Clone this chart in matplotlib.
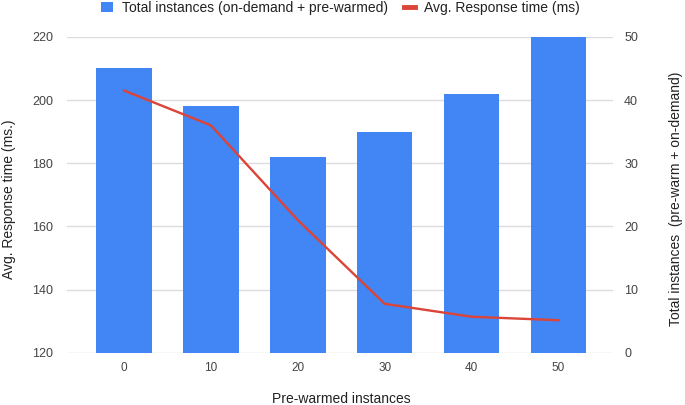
import matplotlib
matplotlib.use("Agg")
import matplotlib.pyplot as plt
from matplotlib.lines import Line2D
from matplotlib.patches import Patch

plt.rcParams['font.family'] = ['Liberation Sans', 'DejaVu Sans']

categories = ['0', '10', '20', '30', '40', '50']
total_instances = [45, 39, 31, 35, 41, 50]
response_time = [203, 192, 162, 135.5, 131.4, 130.3]

blue = '#4285F4'
red = '#DB4437'
grid = '#dcdcdc'
tick_col = '#444444'
lab_col = '#222222'

W, H = 685, 405
fig = plt.figure(figsize=(W / 100, H / 100), dpi=100)
ax = fig.add_axes([0.0974, 0.129, 0.7976, 0.780])
ax2 = ax.twinx()

x = list(range(len(categories)))
ax2.bar(x, total_instances, width=0.64, color=blue, zorder=2)
ax2.set_ylim(0, 50)
ax2.set_yticks([0, 10, 20, 30, 40, 50])
ax2.yaxis.grid(True, color=grid, linewidth=1.0, zorder=0)
ax2.set_axisbelow(True)

ax.plot(x, response_time, color=red, linewidth=1.7, zorder=3)
ax.set_ylim(120, 220)
ax.set_yticks([120, 140, 160, 180, 200, 220])
ax.set_xlim(-0.66, 5.63)
ax.set_xticks(x)
ax.set_xticklabels(categories)

ax.set_zorder(ax2.get_zorder() + 1)
ax.patch.set_visible(False)

for a in (ax, ax2):
    for s in a.spines.values():
        s.set_visible(False)
    a.tick_params(length=0, colors=tick_col)

ax.tick_params(axis='y', labelsize=9, pad=10)
ax.tick_params(axis='x', labelsize=8.5, pad=7)
ax2.tick_params(axis='y', labelsize=9, pad=8)

fig.text(341 / W, 1 - 399 / H, 'Pre-warmed instances', fontsize=10, color=lab_col,
         ha='center', va='center')
fig.text(9 / W, 1 - 199 / H, 'Avg. Response time (ms.)', fontsize=10, color=lab_col,
         ha='center', va='center', rotation=90)
fig.text(676 / W, 1 - 199 / H, 'Total instances  (pre-warm + on-demand)', fontsize=10,
         color=lab_col, ha='center', va='center', rotation=90)

handles = [Patch(facecolor=blue, edgecolor='none'),
           Line2D([0], [0], color=red, linewidth=3.5)]
labels = ['Total instances (on-demand + pre-warmed)', 'Avg. Response time (ms)']
fig.legend(handles, labels, loc='center', bbox_to_anchor=(0.497, 0.980), ncol=2,
           frameon=False, fontsize=10, handlelength=0.85, handleheight=0.75,
           handletextpad=0.65, columnspacing=1.15, labelcolor=lab_col,
           borderpad=0, borderaxespad=0)

fig.savefig('out.png', dpi=100)
